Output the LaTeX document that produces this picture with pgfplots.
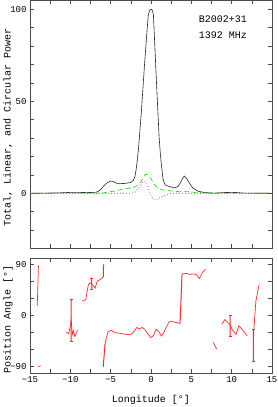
\documentclass[border=0pt]{standalone}
\usepackage{fontspec}
\setmainfont{Liberation Mono}
\usepackage{pgfplots}
\pgfplotsset{compat=1.18}
\definecolor{frm}{gray}{0.3}
\definecolor{lingreen}{RGB}{0,225,0}
\definecolor{circmag}{RGB}{240,0,240}
\definecolor{pared}{RGB}{255,40,40}
\pgfplotsset{
  pulsar/.style={
    scale only axis, width=242pt,
    xmin=-15, xmax=15,
    xtick={-15,-10,-5,0,5,10,15},
    minor xtick={-12.5,-7.5,-2.5,2.5,7.5,12.5},
    tick align=inside,
    major tick length=4pt, minor tick length=4pt,
    axis line style={frm, line width=0.8pt},
    every tick/.style={frm, line width=0.6pt},
    every minor tick/.style={frm, line width=0.6pt},
    tick label style={font=\fontsize{9}{10}\selectfont},
    label style={font=\fontsize{10}{11}\selectfont},
    /pgf/number format/assume math mode=true,
  },
  pa/.style={color=pared, draw=pared, line width=0.7pt, mark=none, solid, forget plot},
  pav/.style={pa, line width=1pt},
}
\begin{document}
\begin{tikzpicture}
\useasboundingbox (0pt,0pt) rectangle (278pt,407pt);
\begin{axis}[pulsar,
  at={(30pt,159pt)}, anchor=south west, height=248pt,
  ymin=-29.7, ymax=105,
  xticklabels={},
  ytick={0,50,100},
  minor ytick={-20,-10,10,20,30,40,60,70,80,90},
  ylabel={Total, Linear, and Circular Power},
  ylabel style={at={(axis description cs:-0.091,0.484)}, anchor=center},
]
\addplot[draw=black!85, line width=0.6pt, mark=none] coordinates {
(-15,0) (-13,0.1) (-11,0.3) (-10,0.5) (-9,0.5) (-8,0.4) (-7,0.5) (-6.6,0.9)
(-6.2,2.2) (-5.8,4.3) (-5.4,5.8) (-5.05,6.7) (-4.7,6.4) (-4.3,5.6) (-4.0,5.2)
(-3.2,5.4) (-2.5,5.9) (-2.2,7) (-2.0,9) (-1.85,12.7) (-1.7,18) (-1.55,24)
(-1.2,44) (-0.8,70) (-0.5,88) (-0.33,97) (-0.15,99.5) (0,100) (0.15,99.5)
(0.3,97) (0.65,63) (1.0,31) (1.15,22) (1.3,15) (1.5,7.5) (1.75,4.5) (2.35,3.6)
(2.95,2.9) (3.35,3.8) (3.6,5.4) (3.9,8) (4.13,9.4) (4.4,8.2) (4.65,6.3) (5.0,4)
(5.25,2.7) (5.85,1.1) (6.7,0.4) (7.7,0.1) (8.5,0.2) (9,0.4) (10,0.5) (10.7,0.4)
(11.5,0.1) (15,0)
};
\addplot[draw=lingreen, line width=0.6pt, mark=none, dash pattern=on 5pt off 3pt] coordinates {
(-15,0) (-6,0.2) (-5.2,0.8) (-4.5,1.2) (-3.8,2) (-3,2.7) (-2.3,2.8) (-1.8,4)
(-1.4,5.5) (-1.0,8) (-0.7,10.4) (-0.4,10) (0,8) (0.3,5.5) (0.6,3.8) (1.0,2.5)
(1.5,1.8) (2.3,1.4) (3.4,0.9) (4.6,0.9) (5.5,0.5) (6.5,0.2) (15,0)
};
\addplot[draw=circmag, line width=0.7pt, mark=none, dash pattern=on 0.8pt off 2.2pt] coordinates {
(-15,0) (-2.5,0) (-2,0.5) (-1.6,2.5) (-1.2,5) (-0.9,6.5) (-0.6,6) (-0.35,3.5)
(-0.1,0) (0.1,-2) (0.3,-3.5) (0.7,-3.6) (1.1,-2.5) (1.7,-1.2) (2.5,0) (15,0)
};
\node[font=\fontsize{10}{11}\selectfont] at (axis cs:8.9,94.7) {B2002+31};
\node[font=\fontsize{10}{11}\selectfont] at (axis cs:8.9,86) {1392 MHz};
\end{axis}
\begin{axis}[pulsar,
  at={(30pt,34pt)}, anchor=south west, height=115pt,
  ymin=-101, ymax=101,
  xticklabels={−15,−10,−5,0,5,10,15},
  ytick={-90,0,90}, yticklabels={−90,0,90},
  minor ytick={-60,-30,30,60},
  xlabel={Longitude [°]},
  xlabel style={at={(axis description cs:0.5,-0.235)}, anchor=center},
  ylabel={Position Angle [°]},
  ylabel style={at={(axis description cs:-0.091,0.465)}, anchor=center},
]
\addplot[pa] coordinates {(-14.1,17) (-13.95,88)};
\addplot[pa] coordinates {(-13.97,-90) (-13.68,-88)};
\addplot[pa] coordinates {(-10.5,-29) (-10.2,-32) (-10.0,-18) (-9.9,-8) (-9.75,-33)
 (-9.6,-27) (-9.45,-37) (-9.1,-26)};
\addplot[pa] coordinates {(-8.5,26) (-8.1,27.5) (-7.75,55) (-7.5,57) (-7.35,55)
 (-7.15,52) (-6.95,48) (-6.65,60) (-6.1,65) (-5.92,68)};
\addplot[pav] coordinates {(-5.92,68) (-5.88,90)};
\addplot[pav] coordinates {(-5.92,-90) (-5.7,-50)};
\addplot[pa] coordinates {(-5.7,-50) (-5.55,-40) (-5.3,-28) (-4.9,-26)
 (-4.5,-30) (-2.6,-34) (-2.2,-30) (-1.75,-21) (-1.45,-24) (-1.1,-21) (-0.8,-24)
 (-0.5,-30) (0,-39) (0.3,-35) (0.65,-24) (0.95,-28) (1.3,-36) (1.55,-31)
 (1.85,-22) (2.2,-12) (2.5,-10) (3.0,-12) (3.6,-14)};
\addplot[pav] coordinates {(3.6,-14) (3.85,73)};
\addplot[pa] coordinates {(3.85,73) (4.4,74) (4.8,72)
 (5.05,73) (5.6,72) (6.0,65) (6.4,76) (6.75,81)};
\addplot[pa] coordinates {(7.72,-47) (8.14,-59)};
\addplot[pa] coordinates {(8.8,-15) (9.17,-7) (9.5,-12) (9.8,-17) (10.2,-28)
 (10.55,-33) (10.9,-18) (11.45,-27) (11.95,-36)};
\addplot[pa] coordinates {(12.7,-50) (12.75,-24) (13.0,25) (13.4,54)};
% error bars: bar and end caps
\addplot[pav] coordinates {(-9.9,29) (-9.89,-45)};
\addplot[pa] coordinates {(-10.08,29) (-9.72,29)};
\addplot[pa] coordinates {(-10.08,-45) (-9.72,-45)};
\addplot[pav] coordinates {(-7.35,66) (-7.34,46)};
\addplot[pa] coordinates {(-7.53,66) (-7.17,66)};
\addplot[pa] coordinates {(-7.53,46) (-7.17,46)};
\addplot[pav] coordinates {(9.8,0) (9.81,-36)};
\addplot[pa] coordinates {(9.62,0) (9.98,0)};
\addplot[pa] coordinates {(9.62,-36) (9.98,-36)};
\addplot[pav] coordinates {(12.68,-24) (12.69,-80)};
\addplot[pa] coordinates {(12.5,-24) (12.86,-24)};
\addplot[pa] coordinates {(12.5,-80) (12.86,-80)};
\end{axis}
\end{tikzpicture}
\end{document}
